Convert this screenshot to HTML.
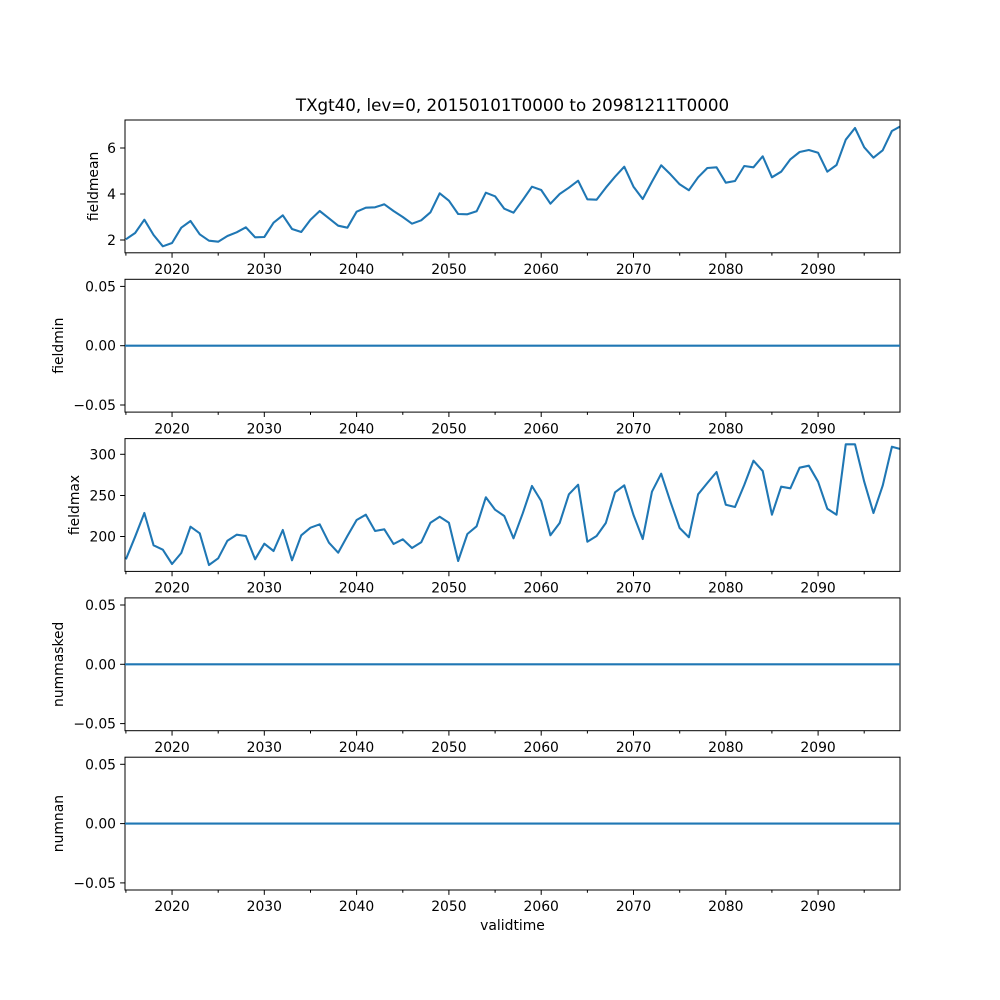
<!DOCTYPE html>
<html><head><meta charset="utf-8"><style>
html,body{margin:0;padding:0;background:#fff;}
svg{display:block;font-family:"DejaVu Sans","Liberation Sans",sans-serif;}
</style></head><body>
<svg width="1000" height="1000" viewBox="0 0 1000 1000" xmlns="http://www.w3.org/2000/svg">
<defs>
<clipPath id="c1"><rect x="125" y="120" width="775" height="132.8"/></clipPath>
<clipPath id="c3"><rect x="125" y="438.6" width="775" height="132.8"/></clipPath>
</defs>
<rect width="1000" height="1000" fill="#fff"/>
<text x="512.5" y="111" font-size="16.7" text-anchor="middle">TXgt40, lev=0, 20150101T0000 to 20981211T0000</text>

<!-- Panel 1 -->
<g clip-path="url(#c1)">
<polyline fill="none" stroke="#1f77b4" stroke-width="2.08" stroke-linejoin="round" vector-effect="non-scaling-stroke" transform="translate(125.9,0) scale(9.229,1)" points="0,239.3 1,233 2,219.7 3,235 4,246.3 5,243 6,227.7 7,221 8,234.3 9,240.7 10,241.7 11,236 12,232.3 13,227.3 14,237.3 15,237 16,222.7 17,215.3 18,229 19,232 20,219.7 21,211 22,218.3 23,225.7 24,227.7 25,211.7 26,207.7 27,207.3 28,204.3 29,211 30,217 31,223.7 32,220.3 33,212.3 34,193.3 35,200.7 36,214 37,214.3 38,211.3 39,192.7 40,196.3 41,208.7 42,212.7 43,200 44,186.7 45,190 46,203.7 47,194 48,187.7 49,180.7 50,199.3 51,199.7 52,187.7 53,176.7 54,166.7 55,186.7 56,199 57,181.7 58,165.3 59,174.3 60,184.3 61,190.3 62,177.3 63,168 64,167.3 65,182.7 66,181 67,166 68,167.3 69,156.3 70,177.3 71,171.7 72,159.3 73,152 74,150 75,152.7 76,171.7 77,165 78,139.7 79,128 80,147.3 81,157.7 82,150.3 83,131 84,126"/>
</g>
<rect x="125" y="120" width="775" height="132.8" fill="none" stroke="#000" stroke-width="1"/>
<g font-size="13.9" text-anchor="end">
<line x1="120.1" x2="125" y1="240" y2="240" stroke="#000"/><text x="116" y="245">2</text>
<line x1="120.1" x2="125" y1="194" y2="194" stroke="#000"/><text x="116" y="199">4</text>
<line x1="120.1" x2="125" y1="148" y2="148" stroke="#000"/><text x="116" y="153">6</text>
</g>
<text transform="translate(98,186.4) rotate(-90)" font-size="13.9" text-anchor="middle">fieldmean</text>

<!-- Panel 2 -->
<rect x="125" y="279.3" width="775" height="132.8" fill="none" stroke="#000"/>
<line x1="125" x2="900" y1="345.7" y2="345.7" stroke="#1f77b4" stroke-width="2.08"/>
<g font-size="13.9" text-anchor="end">
<line x1="120.1" x2="125" y1="286.4" y2="286.4" stroke="#000"/><text x="116" y="291.4">0.05</text>
<line x1="120.1" x2="125" y1="345.7" y2="345.7" stroke="#000"/><text x="116" y="350.7">0.00</text>
<line x1="120.1" x2="125" y1="405" y2="405" stroke="#000"/><text x="116" y="410">−0.05</text>
</g>
<text transform="translate(63,345.7) rotate(-90)" font-size="13.9" text-anchor="middle">fieldmin</text>

<!-- Panel 3 -->
<g clip-path="url(#c3)">
<polyline fill="none" stroke="#1f77b4" stroke-width="2.08" stroke-linejoin="round" vector-effect="non-scaling-stroke" transform="translate(125.9,0) scale(9.229,1)" points="0,559.3 1,536.7 2,513 3,545.3 4,549.7 5,564 6,553 7,526.7 8,533.3 9,565 10,558.3 11,540.7 12,534.7 13,536 14,559.3 15,543.7 16,551 17,530 18,560.3 19,535.3 20,527.7 21,524.3 22,542.7 23,552.7 24,536 25,520 26,514.7 27,531 28,529.3 29,544 30,539.3 31,548 32,542.3 33,522.7 34,516.7 35,522.7 36,561 37,534 38,526.3 39,497.3 40,509.7 41,516 42,538.3 43,513.3 44,486 45,501 46,535.3 47,523 48,494.3 49,484.7 50,541.7 51,536 52,523 53,492.3 54,485.3 55,515 56,539 57,491.7 58,473.7 59,501.7 60,528 61,537.3 62,494.3 63,483 64,472 65,504.7 66,507 67,485 68,460.7 69,471 70,514.7 71,486.7 72,488.3 73,467.7 74,465.7 75,481.7 76,508.7 77,514.7 78,444.3 79,444.3 80,481.7 81,513 82,485.7 83,446.7 84,449.3"/>
</g>
<rect x="125" y="438.6" width="775" height="132.8" fill="none" stroke="#000"/>
<g font-size="13.9" text-anchor="end">
<line x1="120.1" x2="125" y1="536.5" y2="536.5" stroke="#000"/><text x="116" y="541.5">200</text>
<line x1="120.1" x2="125" y1="495.5" y2="495.5" stroke="#000"/><text x="116" y="500.5">250</text>
<line x1="120.1" x2="125" y1="454.3" y2="454.3" stroke="#000"/><text x="116" y="459.3">300</text>
</g>
<text transform="translate(79,505) rotate(-90)" font-size="13.9" text-anchor="middle">fieldmax</text>

<!-- Panel 4 -->
<rect x="125" y="597.9" width="775" height="132.8" fill="none" stroke="#000"/>
<line x1="125" x2="900" y1="664.3" y2="664.3" stroke="#1f77b4" stroke-width="2.08"/>
<g font-size="13.9" text-anchor="end">
<line x1="120.1" x2="125" y1="605" y2="605" stroke="#000"/><text x="116" y="610">0.05</text>
<line x1="120.1" x2="125" y1="664.3" y2="664.3" stroke="#000"/><text x="116" y="669.3">0.00</text>
<line x1="120.1" x2="125" y1="723.6" y2="723.6" stroke="#000"/><text x="116" y="728.6">−0.05</text>
</g>
<text transform="translate(63,664.3) rotate(-90)" font-size="13.9" text-anchor="middle">nummasked</text>

<!-- Panel 5 -->
<rect x="125" y="757.2" width="775" height="132.8" fill="none" stroke="#000"/>
<line x1="125" x2="900" y1="823.6" y2="823.6" stroke="#1f77b4" stroke-width="2.08"/>
<g font-size="13.9" text-anchor="end">
<line x1="120.1" x2="125" y1="764.3" y2="764.3" stroke="#000"/><text x="116" y="769.3">0.05</text>
<line x1="120.1" x2="125" y1="823.6" y2="823.6" stroke="#000"/><text x="116" y="828.6">0.00</text>
<line x1="120.1" x2="125" y1="882.9" y2="882.9" stroke="#000"/><text x="116" y="887.9">−0.05</text>
</g>
<text transform="translate(63,823.6) rotate(-90)" font-size="13.9" text-anchor="middle">numnan</text>
<text x="512.5" y="930" font-size="13.9" text-anchor="middle">validtime</text>

<g stroke="#000">
<path d="M172.05,252.8v4.9M264.3,252.8v4.9M356.6,252.8v4.9M448.9,252.8v4.9M541.2,252.8v4.9M633.5,252.8v4.9M725.8,252.8v4.9M818.1,252.8v4.9
M125.9,252.8v2.8M218.2,252.8v2.8M310.5,252.8v2.8M402.8,252.8v2.8M495.1,252.8v2.8M587.4,252.8v2.8M679.7,252.8v2.8M771.9,252.8v2.8M864.2,252.8v2.8
M172.05,412.1v4.9M264.3,412.1v4.9M356.6,412.1v4.9M448.9,412.1v4.9M541.2,412.1v4.9M633.5,412.1v4.9M725.8,412.1v4.9M818.1,412.1v4.9
M125.9,412.1v2.8M218.2,412.1v2.8M310.5,412.1v2.8M402.8,412.1v2.8M495.1,412.1v2.8M587.4,412.1v2.8M679.7,412.1v2.8M771.9,412.1v2.8M864.2,412.1v2.8
M172.05,571.4v4.9M264.3,571.4v4.9M356.6,571.4v4.9M448.9,571.4v4.9M541.2,571.4v4.9M633.5,571.4v4.9M725.8,571.4v4.9M818.1,571.4v4.9
M125.9,571.4v2.8M218.2,571.4v2.8M310.5,571.4v2.8M402.8,571.4v2.8M495.1,571.4v2.8M587.4,571.4v2.8M679.7,571.4v2.8M771.9,571.4v2.8M864.2,571.4v2.8
M172.05,730.7v4.9M264.3,730.7v4.9M356.6,730.7v4.9M448.9,730.7v4.9M541.2,730.7v4.9M633.5,730.7v4.9M725.8,730.7v4.9M818.1,730.7v4.9
M125.9,730.7v2.8M218.2,730.7v2.8M310.5,730.7v2.8M402.8,730.7v2.8M495.1,730.7v2.8M587.4,730.7v2.8M679.7,730.7v2.8M771.9,730.7v2.8M864.2,730.7v2.8
M172.05,890v4.9M264.3,890v4.9M356.6,890v4.9M448.9,890v4.9M541.2,890v4.9M633.5,890v4.9M725.8,890v4.9M818.1,890v4.9
M125.9,890v2.8M218.2,890v2.8M310.5,890v2.8M402.8,890v2.8M495.1,890v2.8M587.4,890v2.8M679.7,890v2.8M771.9,890v2.8M864.2,890v2.8"/>
</g>
<g font-size="13.9" text-anchor="middle">
<g transform="translate(0,274)"><text x="172.05">2020</text><text x="264.3">2030</text><text x="356.6">2040</text><text x="448.9">2050</text><text x="541.2">2060</text><text x="633.5">2070</text><text x="725.8">2080</text><text x="818.1">2090</text></g>
<g transform="translate(0,433.3)"><text x="172.05">2020</text><text x="264.3">2030</text><text x="356.6">2040</text><text x="448.9">2050</text><text x="541.2">2060</text><text x="633.5">2070</text><text x="725.8">2080</text><text x="818.1">2090</text></g>
<g transform="translate(0,592.6)"><text x="172.05">2020</text><text x="264.3">2030</text><text x="356.6">2040</text><text x="448.9">2050</text><text x="541.2">2060</text><text x="633.5">2070</text><text x="725.8">2080</text><text x="818.1">2090</text></g>
<g transform="translate(0,751.9)"><text x="172.05">2020</text><text x="264.3">2030</text><text x="356.6">2040</text><text x="448.9">2050</text><text x="541.2">2060</text><text x="633.5">2070</text><text x="725.8">2080</text><text x="818.1">2090</text></g>
<g transform="translate(0,911.2)"><text x="172.05">2020</text><text x="264.3">2030</text><text x="356.6">2040</text><text x="448.9">2050</text><text x="541.2">2060</text><text x="633.5">2070</text><text x="725.8">2080</text><text x="818.1">2090</text></g>
</g>
</svg>
</body></html>
